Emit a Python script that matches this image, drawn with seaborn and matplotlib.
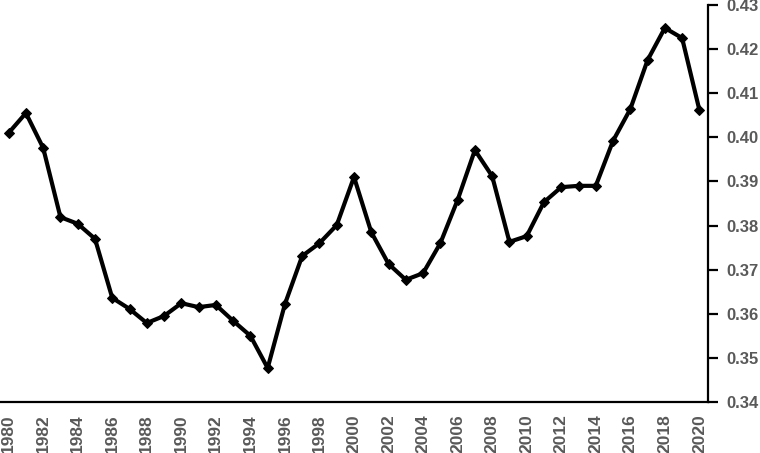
import matplotlib
matplotlib.use("Agg")
import matplotlib.pyplot as plt
import seaborn as sns
import pandas as pd
import numpy as np
from matplotlib.ticker import FixedLocator

years = list(range(1980, 2021))
values = [0.4010, 0.4055, 0.3976, 0.3819, 0.3804, 0.3770, 0.3636, 0.3611,
          0.3579, 0.3595, 0.3624, 0.3615, 0.3620, 0.3584, 0.3550, 0.3477,
          0.3622, 0.3731, 0.3760, 0.3801, 0.3910, 0.3785, 0.3713, 0.3677,
          0.3692, 0.3760, 0.3858, 0.3971, 0.3912, 0.3763, 0.3776, 0.3853,
          0.3887, 0.3890, 0.3890, 0.3992, 0.4064, 0.4175, 0.4248, 0.4225,
          0.4062]
ytick_vals = [0.34, 0.35, 0.36, 0.37, 0.38, 0.39, 0.40, 0.41, 0.42, 0.43]
xtick_labels = [str(y) for y in range(1980, 2021, 2)]

df = pd.DataFrame({"year": years, "value": values})

sns.set_style("white")
plt.rcParams['font.family'] = ['Liberation Sans', 'DejaVu Sans']

fig = plt.figure(figsize=(7.6, 4.53), dpi=100)
ax = fig.add_axes([0.0, 0.1126, 0.9316, 0.8764])

sns.lineplot(data=df, x="year", y="value", ax=ax, color="black",
             linewidth=3.0, marker="D", markersize=5.5,
             markeredgecolor="black", markerfacecolor="black")

ax.set_xlim(1979.5, 2020.5)
ax.set_ylim(0.34, 0.43)
ax.set_xlabel("")
ax.set_ylabel("")

for s in ["left", "top"]:
    ax.spines[s].set_visible(False)
for s in ["bottom", "right"]:
    ax.spines[s].set_visible(True)
    ax.spines[s].set_color("black")
    ax.spines[s].set_linewidth(1.6)

ax.yaxis.tick_right()
ax.set_yticks(ytick_vals)
ax.set_yticklabels([f"{v:.2f}" for v in ytick_vals])
ax.tick_params(axis="y", which="major", direction="out", length=7, width=1.6,
               color="black", pad=6, labelsize=12, labelcolor="#595959")

ax.xaxis.set_major_locator(FixedLocator(list(range(1980, 2021, 2))))
ax.set_xticklabels(xtick_labels, rotation=90, fontweight="bold")
ax.xaxis.set_minor_locator(FixedLocator(list(np.arange(1979.5, 2021.0, 1.0))))
ax.tick_params(axis="x", which="major", length=0, pad=9, labelsize=12.5,
               labelcolor="#595959")
ax.tick_params(axis="x", which="minor", direction="out", length=5, width=1.6,
               color="black")
for lbl in ax.get_yticklabels():
    lbl.set_fontweight("bold")
ax.grid(False)

fig.savefig("out.png", dpi=100)
